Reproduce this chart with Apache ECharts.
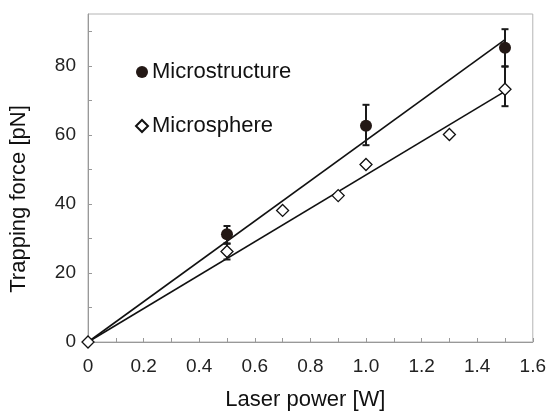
<!DOCTYPE html>
<html>
<head>
<meta charset="utf-8">
<script src="https://cdn.jsdelivr.net/npm/echarts@6/dist/echarts.min.js"></script>
<style>
html,body{margin:0;padding:0;background:#fff;}
#c{width:549px;height:416px;}
</style>
</head>
<body>
<div id="c"></div>
<script>
// Data
const structureX = [0.5, 1.0, 1.5];
const structureY = [31.2, 62.6, 85.2];
const structureLow = [28.5, 57.0, 79.8];
const structureHigh = [33.6, 68.7, 90.6];

const sphereX = [0, 0.5, 0.7, 0.9, 1.0, 1.3, 1.5];
const sphereY = [0, 26.2, 38.1, 42.4, 51.4, 60.1, 73.2];
const sphereErrX = [0.5, 1.5];
const sphereLow = [23.9, 68.3];
const sphereHigh = [28.5, 79.8];

const fitStructure = [[0, 0], [1.5, 87.6]];
const fitSphere = [[0, 0], [1.5, 72.6]];

const xTicks = ['0', '0.2', '0.4', '0.6', '0.8', '1.0', '1.2', '1.4', '1.6'];
const yTicks = ['0', '20', '40', '60', '80'];

const FONT = 'Liberation Sans, Arial, Helvetica, sans-serif';

const chart = echarts.init(document.getElementById('c'), null, {renderer: 'canvas'});

const errData = structureX.map((x, i) => [x, structureLow[i], structureHigh[i]])
  .concat(sphereErrX.map((x, i) => [x, sphereLow[i], sphereHigh[i]]));

function renderErr(params, api) {
  const x = api.value(0);
  const lo = api.coord([x, api.value(1)]);
  const hi = api.coord([x, api.value(2)]);
  const w = 3.5;
  const st = {stroke: '#1a1a1a', lineWidth: 2};
  return {
    type: 'group',
    children: [
      {type: 'line', shape: {x1: lo[0], y1: lo[1], x2: hi[0], y2: hi[1]}, style: st},
      {type: 'line', shape: {x1: lo[0] - w, y1: lo[1], x2: lo[0] + w, y2: lo[1]}, style: st},
      {type: 'line', shape: {x1: hi[0] - w, y1: hi[1], x2: hi[0] + w, y2: hi[1]}, style: st}
    ]
  };
}

chart.setOption({
  animation: false,
  backgroundColor: '#fff',
  grid: {left: 87, right: 13, top: 14, bottom: 68, show: true, borderColor: '#b4b4b4', borderWidth: 1},
  legend: {
    orient: 'vertical',
    left: 130,
    top: 56,
    itemWidth: 12,
    itemHeight: 12,
    itemGap: 32,
    selectedMode: false,
    data: ['Microstructure', 'Microsphere'],
    textStyle: {fontFamily: FONT, fontSize: 22, color: '#111', lineHeight: 22, padding: [0, 0, 0, -1]}
  },
  xAxis: {
    type: 'value',
    min: 0, max: 1.6, interval: 0.1,
    axisLine: {lineStyle: {color: '#999', width: 1}},
    axisTick: {inside: true, length: 4, lineStyle: {color: '#999'}},
    splitLine: {show: false},
    axisLabel: {
      fontFamily: FONT, fontSize: 19, color: '#222', margin: 15,
      formatter: function (v) {
        const k = Math.round(v * 10);
        if (k % 2 !== 0) return '';
        return xTicks[k / 2];
      }
    },
    name: 'Laser power [W]',
    nameLocation: 'middle',
    nameGap: 47,
    nameTextStyle: {fontFamily: FONT, fontSize: 22, color: '#111', padding: [0, 10, 0, 0]}
  },
  yAxis: {
    type: 'value',
    min: 0, max: 95, interval: 10,
    axisLine: {show: true, lineStyle: {color: '#999', width: 1}},
    axisTick: {show: true, inside: true, length: 4, lineStyle: {color: '#999'}},
    splitLine: {show: false},
    axisLabel: {
      fontFamily: FONT, fontSize: 19, color: '#222', margin: 12, showMaxLabel: false,
      formatter: function (v) {
        const k = Math.round(v);
        if (k % 20 !== 0) return '';
        return yTicks[k / 20] || '';
      }
    },
    name: 'Trapping force [pN]',
    nameLocation: 'middle',
    nameGap: 58,
    nameTextStyle: {fontFamily: FONT, fontSize: 22, color: '#111', padding: [0, 42, 0, 0]}
  },
  series: [
    {
      name: 'fitStructure', type: 'line', data: fitStructure, symbol: 'none',
      lineStyle: {color: '#111', width: 1.6}, z: 2, silent: true
    },
    {
      name: 'fitSphere', type: 'line', data: fitSphere, symbol: 'none',
      lineStyle: {color: '#111', width: 1.6}, z: 2, silent: true
    },
    {
      name: 'err', type: 'custom', renderItem: renderErr, data: errData,
      encode: {x: 0, y: [1, 2]}, z: 3, silent: true
    },
    {
      name: 'Microsphere', type: 'scatter', symbol: 'diamond', symbolSize: 12,
      data: sphereX.map((x, i) => [x, sphereY[i]]),
      itemStyle: {color: '#fff', borderColor: '#111', borderWidth: 1.3, opacity: 1},
      z: 4
    },
    {
      name: 'Microstructure', type: 'scatter', symbol: 'circle', symbolSize: 12,
      data: structureX.map((x, i) => [x, structureY[i]]),
      itemStyle: {color: '#231815', opacity: 1},
      z: 5
    }
  ]
});
</script>
</body>
</html>
